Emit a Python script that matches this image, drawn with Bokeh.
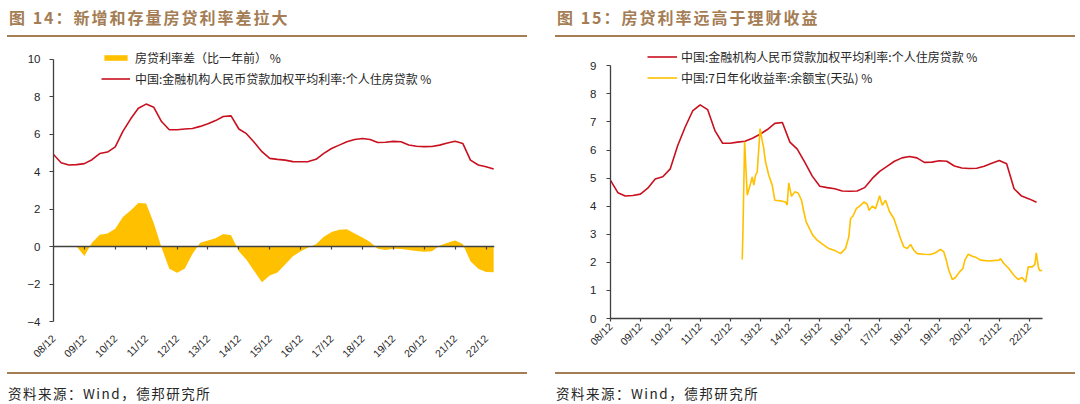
import math
import pandas as pd
from bokeh.plotting import figure
from bokeh.layouts import row, column
from bokeh.models import (DatetimeAxis, FixedTicker, Legend, LegendItem, Range1d,
                          DatetimeTickFormatter, Div)
from bokeh.embed import file_html
from bokeh.resources import INLINE

# ---------------- data ----------------
quarter_start, quarter_end = "2008Q4", "2023Q1"

# 金融机构人民币贷款加权平均利率:个人住房贷款 (quarterly, %)
mortgage_rate = [4.92, 4.48, 4.36, 4.38, 4.43, 4.64, 4.97, 5.05, 5.33, 6.15,
                 6.81, 7.39, 7.61, 7.44, 6.68, 6.24, 6.24, 6.28, 6.31, 6.42,
                 6.56, 6.73, 6.95, 6.98, 6.28, 6.03, 5.57, 5.07, 4.71, 4.66,
                 4.62, 4.54, 4.53, 4.54, 4.66, 4.98, 5.24, 5.42, 5.60, 5.72,
                 5.77, 5.72, 5.56, 5.57, 5.62, 5.60, 5.43, 5.36, 5.34, 5.35,
                 5.42, 5.53, 5.63, 5.51, 4.62, 4.36, 4.26, 4.14]

# 房贷利率差（比一年前） (quarterly, %)
rate_spread = [0.0, 0.0, 0.0, 0.0, -0.50, 0.20, 0.63, 0.70, 0.95, 1.58,
               1.93, 2.33, 2.30, 1.25, -0.05, -1.18, -1.40, -1.18, -0.40, 0.20,
               0.33, 0.45, 0.67, 0.60, -0.25, -0.70, -1.30, -1.90, -1.55, -1.38,
               -0.95, -0.52, -0.25, -0.05, 0.12, 0.53, 0.78, 0.90, 0.93, 0.70,
               0.48, 0.25, -0.12, -0.18, -0.12, -0.13, -0.18, -0.23, -0.28, -0.25,
               0.05, 0.20, 0.32, 0.14, -0.78, -1.18, -1.36, -1.37]

# 余额宝(天弘) 7日年化收益率 (%)
yeb_dates = ["2013-05-28", "2013-06-05", "2013-06-26", "2013-07-28", "2013-09-06",
             "2013-09-27", "2013-10-16", "2013-11-06", "2013-11-27", "2014-01-01",
             "2014-01-25", "2014-02-12", "2014-03-08", "2014-04-17", "2014-05-29",
             "2014-06-30", "2014-09-07", "2014-11-07", "2014-11-28", "2014-12-17",
             "2015-01-19", "2015-03-01", "2015-04-11", "2015-05-22", "2015-06-19",
             "2015-07-18", "2015-08-27", "2015-10-06", "2015-11-29", "2016-02-06",
             "2016-04-20", "2016-07-10", "2016-09-09", "2016-11-09", "2016-12-19",
             "2017-01-10", "2017-02-07", "2017-03-21", "2017-05-12", "2017-06-22",
             "2017-08-02", "2017-08-22", "2017-10-02", "2017-11-11", "2017-12-31",
             "2018-02-01", "2018-03-13", "2018-05-01", "2018-06-23", "2018-08-03",
             "2018-09-12", "2018-10-22", "2018-12-03", "2019-01-12", "2019-02-22",
             "2019-04-04", "2019-06-23", "2019-09-13", "2019-11-13", "2020-01-14",
             "2020-02-23", "2020-03-24", "2020-04-24", "2020-06-05", "2020-07-15",
             "2020-09-02", "2020-10-12", "2020-11-06", "2020-12-17", "2021-02-05",
             "2021-03-26", "2021-05-17", "2021-08-27", "2021-12-27", "2022-01-16",
             "2022-02-25", "2022-04-27", "2022-06-27", "2022-08-19", "2022-10-07",
             "2022-11-17", "2022-12-20", "2023-02-07", "2023-03-11", "2023-03-28",
             "2023-04-22", "2023-05-08", "2023-06-10"]
yeb_yield = [2.10, 3.03, 6.29, 4.39, 4.81, 5.04, 4.75, 5.10, 5.22, 6.76,
             6.35, 6.10, 5.58, 5.10, 4.75, 4.21, 4.19, 4.15, 4.04, 4.83,
             4.35, 4.51, 4.47, 4.21, 3.80, 3.44, 3.20, 2.97, 2.79, 2.64,
             2.49, 2.41, 2.31, 2.49, 2.90, 3.56, 3.64, 3.91, 4.03, 4.15,
             4.07, 3.85, 4.00, 3.91, 4.37, 4.03, 4.21, 3.80, 3.56, 3.20,
             2.85, 2.55, 2.49, 2.64, 2.43, 2.31, 2.29, 2.28, 2.34, 2.46,
             2.37, 2.08, 1.72, 1.39, 1.46, 1.66, 1.78, 2.08, 2.29, 2.22,
             2.17, 2.08, 2.05, 2.08, 2.13, 1.96, 1.78, 1.54, 1.39, 1.46,
             1.30, 1.84, 1.84, 1.93, 2.34, 1.84, 1.70, 1.72]

x_tick_labels = ["08/12", "09/12", "10/12", "11/12", "12/12", "13/12", "14/12", "15/12",
                 "16/12", "17/12", "18/12", "19/12", "20/12", "21/12", "22/12"]
left_y_ticks = [-4, -2, 0, 2, 4, 6, 8, 10]
right_y_ticks = [0, 1, 2, 3, 4, 5, 6, 7, 8, 9]

titles = ["图 14：新增和存量房贷利率差拉大", "图 15：房贷利率远高于理财收益"]
source_text = "资料来源：Wind，德邦研究所"
left_legend = ["房贷利率差（比一年前） %", "中国:金融机构人民币贷款加权平均利率:个人住房贷款 %"]
right_legend = ["中国:金融机构人民币贷款加权平均利率:个人住房贷款 %", "中国:7日年化收益率:余额宝(天弘) %"]

# ---------------- helpers ----------------
def to_ms(ts):
    return pd.Timestamp(ts).value / 1e6

q_dates = pd.period_range(quarter_start, quarter_end, freq="Q").to_timestamp(how="end").normalize()
q_ms = [to_ms(d) for d in q_dates]
yeb_ms = [to_ms(d) for d in yeb_dates]
tick_ms = [to_ms("20" + lab[:2] + "-" + lab[3:] + "-31") for lab in x_tick_labels]

RED = "#C8101E"
GOLD = "#FFC000"
BROWN = "#A47D55"
AXIS = "#404040"
TXT = "#262626"
LAT = "Liberation Sans"
CJK = "Noto Sans CJK SC"

fmt = DatetimeTickFormatter(microseconds="%y/%m", milliseconds="%y/%m", seconds="%y/%m",
                            minsec="%y/%m", minutes="%y/%m", hourmin="%y/%m", hours="%y/%m",
                            days="%y/%m", months="%y/%m", years="%y/%m")

PANEL_W = 540


def header(title, tx, r0, r1):
    html = (f'<div style="position:relative;width:{PANEL_W}px;height:40px;overflow:hidden;">'
            f'<div style="position:absolute;left:{tx}px;top:6px;white-space:nowrap;'
            f"font-family:'{CJK}';font-weight:bold;font-size:16px;line-height:22px;"
            f'letter-spacing:2px;color:{BROWN};">{title}</div>'
            f'<div style="position:absolute;left:{r0}px;top:34.6px;width:{r1 - r0}px;'
            f'height:2px;background:{BROWN};"></div></div>')
    return Div(text=html, width=PANEL_W, height=40, margin=0)


def footer(tx, r0, r1):
    html = (f'<div style="position:relative;width:{PANEL_W}px;height:38px;overflow:hidden;">'
            f'<div style="position:absolute;left:{r0}px;top:5.7px;width:{r1 - r0}px;'
            f'height:2.2px;background:{BROWN};"></div>'
            f'<div style="position:absolute;left:{tx}px;top:18px;white-space:nowrap;'
            f"font-family:'{CJK}';font-size:13.5px;line-height:18px;"
            f'letter-spacing:1.5px;color:{TXT};">{source_text}</div></div>')
    return Div(text=html, width=PANEL_W, height=38, margin=0)


def style_y(ax, ticks, bounds, standoff):
    ax.ticker = FixedTicker(ticks=ticks)
    ax.bounds = bounds
    ax.axis_line_color = AXIS
    ax.axis_line_width = 1.3
    ax.major_tick_line_color = AXIS
    ax.major_tick_line_width = 1.2
    ax.major_tick_out = 4
    ax.major_tick_in = 0
    ax.minor_tick_line_color = None
    ax.major_label_text_font = LAT
    ax.major_label_text_font_size = "11.5px"
    ax.major_label_text_color = TXT
    ax.major_label_standoff = standoff


def style_x_labels(ax, standoff):
    ax.ticker = FixedTicker(ticks=tick_ms)
    ax.formatter = fmt
    ax.major_label_orientation = math.pi / 4
    ax.major_label_text_font = LAT
    ax.major_label_text_font_size = "10.5px"
    ax.major_label_text_color = TXT
    ax.major_label_standoff = standoff
    ax.minor_tick_line_color = None


# ---------------- left chart ----------------
# frame: x 53..494, y 45..324 (page px); y=10 at 59
pl = figure(width=PANEL_W, height=326, x_axis_type="datetime",
            x_range=Range1d(to_ms("2008-12-31"), to_ms("2023-04-10")),
            y_range=Range1d(-4, 10.74), output_backend="svg", toolbar_location=None,
            min_border_left=53, min_border_right=46, min_border_top=5, min_border_bottom=42)
pl.grid.visible = False
pl.outline_line_color = None
style_y(pl.yaxis[0], left_y_ticks, (-4, 10), 9)
xb = pl.xaxis[0]
style_x_labels(xb, 9)
xb.axis_line_color = None
xb.major_tick_line_color = None

zero_axis = DatetimeAxis(fixed_location=0, ticker=FixedTicker(ticks=tick_ms), formatter=fmt,
                         major_label_text_font_size="0px", major_label_text_alpha=0,
                         major_label_standoff=0,
                         major_tick_in=3, major_tick_out=0, minor_tick_in=0, minor_tick_out=0,
                         minor_tick_line_color=None,
                         axis_line_color=AXIS, axis_line_width=1.3,
                         major_tick_line_color=AXIS, major_tick_line_width=1.2)
pl.add_layout(zero_axis, "above")

area = pl.varea(x=q_ms, y1=0, y2=rate_spread, fill_color=GOLD)
ln_l = pl.line(x=q_ms, y=mortgage_rate, line_color=RED, line_width=1.6)

leg_l = Legend(items=[LegendItem(label=left_legend[0], renderers=[area]),
                      LegendItem(label=left_legend[1], renderers=[ln_l])],
               location=(48, 234), orientation="vertical", padding=0, margin=0,
               spacing=3, glyph_width=29, glyph_height=7, label_height=18,
               label_standoff=5, label_text_font=CJK, label_text_font_size="12px",
               label_text_color=TXT, border_line_color=None, background_fill_alpha=0)
pl.add_layout(leg_l)

# ---------------- right chart ----------------
# frame: x 610..1042, y 45..318 (page px); y=9 at 65.7
pr = figure(width=PANEL_W, height=326, x_axis_type="datetime",
            x_range=Range1d(to_ms("2008-12-31"), to_ms("2023-06-12")),
            y_range=Range1d(0, 9.722), output_backend="svg", toolbar_location=None,
            min_border_left=70, min_border_right=38, min_border_top=5, min_border_bottom=48)
pr.grid.visible = False
pr.outline_line_color = None
style_y(pr.yaxis[0], right_y_ticks, (0, 9), 10)
xr = pr.xaxis[0]
style_x_labels(xr, 3)
xr.axis_line_color = AXIS
xr.axis_line_width = 1.3
xr.major_tick_line_color = AXIS
xr.major_tick_line_width = 1.2
xr.major_tick_out = 3
xr.major_tick_in = 0

ln_r = pr.line(x=q_ms, y=mortgage_rate, line_color=RED, line_width=1.6)
ln_y = pr.line(x=yeb_ms, y=yeb_yield, line_color=GOLD, line_width=1.6)

leg_r = Legend(items=[LegendItem(label=right_legend[0], renderers=[ln_r]),
                      LegendItem(label=right_legend[1], renderers=[ln_y])],
               location=(37, 232), orientation="vertical", padding=0, margin=0,
               spacing=3, glyph_width=30, glyph_height=7, label_height=18,
               label_standoff=4, label_text_font=CJK, label_text_font_size="12px",
               label_text_color=TXT, border_line_color=None, background_fill_alpha=0)
pr.add_layout(leg_r)

left_col = column(header(titles[0], 9, 7, 527), pl, footer(8, 7, 527))
right_col = column(header(titles[1], 17, 15, 535), pr, footer(16, 15, 535))
layout = row(left_col, right_col)

open("out.html", "w").write(file_html(layout, INLINE))
